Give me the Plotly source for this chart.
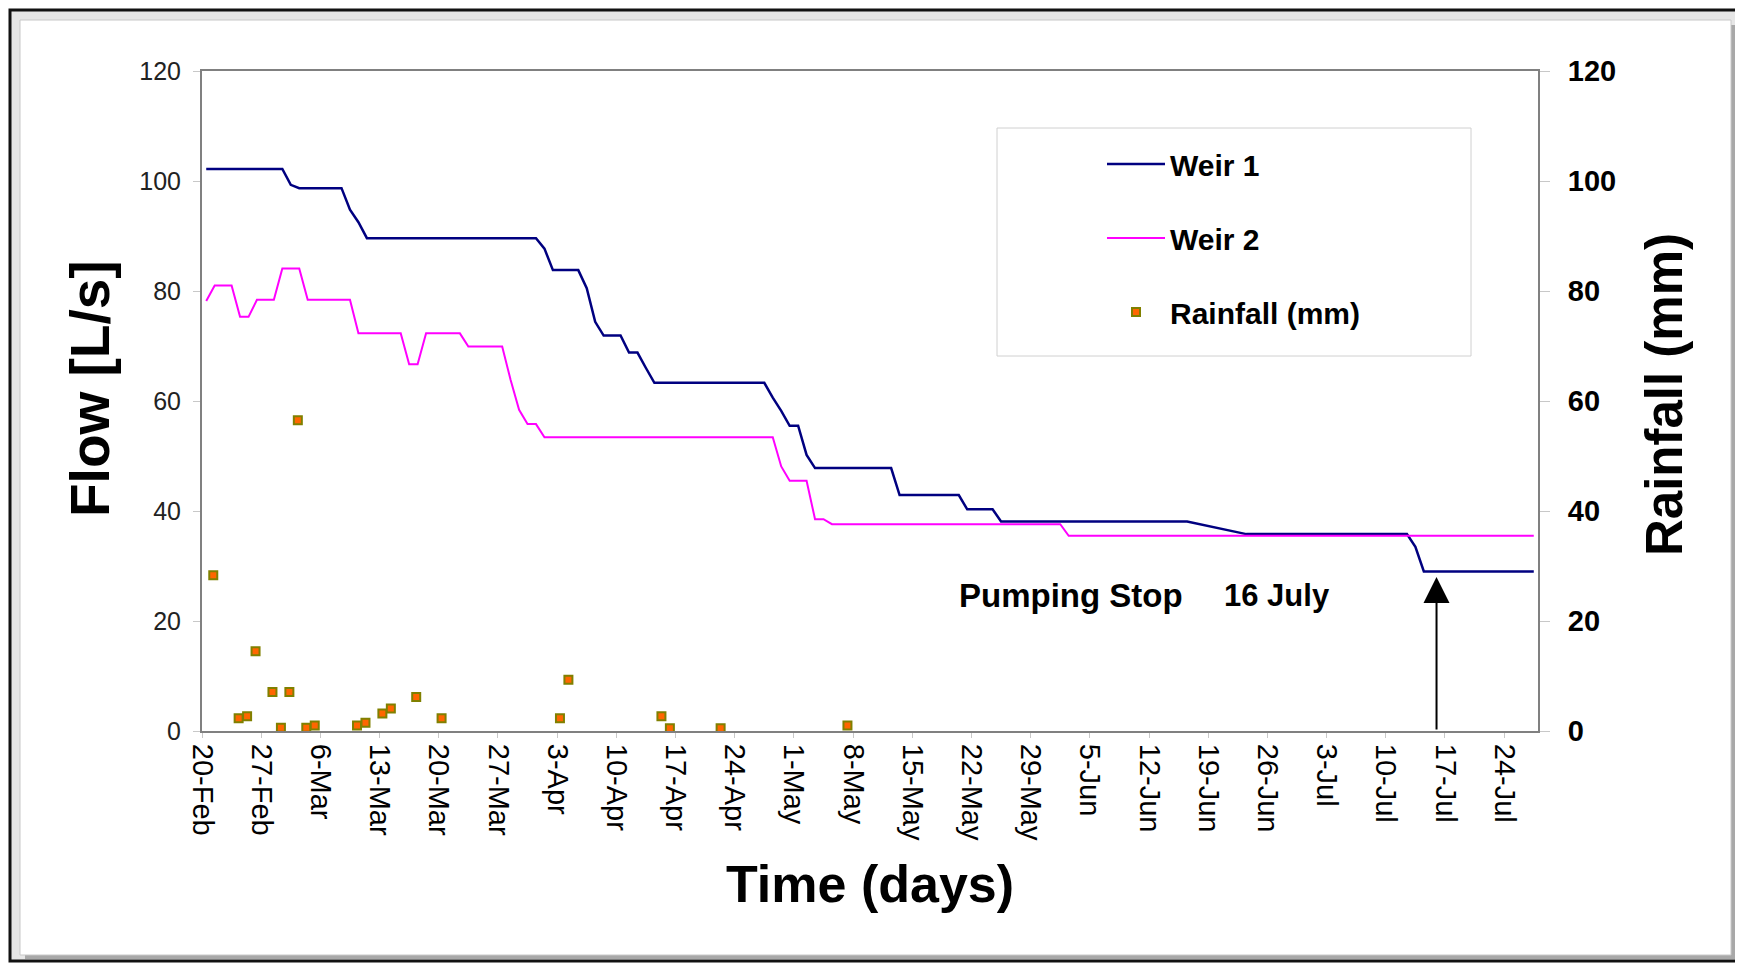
import plotly.graph_objects as go
import pandas as pd

# ---------------- data ----------------
weir1_dates = ["2007-02-20", "2007-03-01", "2007-03-02", "2007-03-03", "2007-03-08", "2007-03-09",
               "2007-03-10", "2007-03-11", "2007-03-31", "2007-04-01", "2007-04-02", "2007-04-05",
               "2007-04-06", "2007-04-07", "2007-04-08", "2007-04-10", "2007-04-11", "2007-04-12",
               "2007-04-13", "2007-04-14", "2007-04-27", "2007-04-28", "2007-04-29", "2007-04-30",
               "2007-05-01", "2007-05-02", "2007-05-03", "2007-05-12", "2007-05-13", "2007-05-20",
               "2007-05-21", "2007-05-24", "2007-05-25", "2007-06-16", "2007-06-23", "2007-07-12",
               "2007-07-13", "2007-07-14", "2007-07-27"]
weir1_flow = [102.2, 102.2, 99.3, 98.7, 98.7, 94.8,
              92.5, 89.6, 89.6, 87.7, 83.8, 83.8,
              80.5, 74.4, 71.9, 71.9, 68.8, 68.8,
              66.0, 63.3, 63.3, 60.6, 58.2, 55.5,
              55.5, 50.2, 47.8, 47.8, 42.9, 42.9,
              40.3, 40.3, 38.1, 38.1, 35.8, 35.8,
              33.5, 29.0, 29.0]

weir2_dates = ["2007-02-20", "2007-02-21", "2007-02-23", "2007-02-24", "2007-02-25", "2007-02-26",
               "2007-02-28", "2007-03-01", "2007-03-03", "2007-03-04", "2007-03-09", "2007-03-10",
               "2007-03-15", "2007-03-16", "2007-03-17", "2007-03-18", "2007-03-22", "2007-03-23",
               "2007-03-27", "2007-03-28", "2007-03-29", "2007-03-30", "2007-03-31", "2007-04-01",
               "2007-04-28", "2007-04-29", "2007-04-30", "2007-05-02", "2007-05-03", "2007-05-04",
               "2007-05-05", "2007-06-01", "2007-06-02", "2007-07-27"]
weir2_flow = [78.2, 81.0, 81.0, 75.3, 75.3, 78.4,
              78.4, 84.1, 84.1, 78.4, 78.4, 72.3,
              72.3, 66.7, 66.7, 72.3, 72.3, 69.9,
              69.9, 63.8, 58.4, 55.8, 55.8, 53.4,
              53.4, 48.1, 45.5, 45.5, 38.5, 38.5,
              37.6, 37.6, 35.5, 35.5]

rain_dates = ["2007-02-21", "2007-02-24", "2007-02-25", "2007-02-26", "2007-02-28", "2007-03-01",
              "2007-03-02", "2007-03-03", "2007-03-04", "2007-03-05", "2007-03-10", "2007-03-11",
              "2007-03-13", "2007-03-14", "2007-03-17", "2007-03-20", "2007-04-03", "2007-04-04",
              "2007-04-15", "2007-04-16", "2007-04-22", "2007-05-07"]
rain_mm = [28.3, 2.3, 2.7, 14.5, 7.1, 0.6,
           7.1, 56.5, 0.6, 1.0, 1.0, 1.5,
           3.2, 4.1, 6.2, 2.3, 2.3, 9.3,
           2.7, 0.5, 0.5, 1.0]

tick_dates = ["2007-02-20", "2007-02-27", "2007-03-06", "2007-03-13", "2007-03-20", "2007-03-27",
              "2007-04-03", "2007-04-10", "2007-04-17", "2007-04-24", "2007-05-01", "2007-05-08",
              "2007-05-15", "2007-05-22", "2007-05-29", "2007-06-05", "2007-06-12", "2007-06-19",
              "2007-06-26", "2007-07-03", "2007-07-10", "2007-07-17", "2007-07-24"]
tick_labels = ["20-Feb", "27-Feb", "6-Mar", "13-Mar", "20-Mar", "27-Mar", "3-Apr", "10-Apr",
               "17-Apr", "24-Apr", "1-May", "8-May", "15-May", "22-May", "29-May", "5-Jun",
               "12-Jun", "19-Jun", "26-Jun", "3-Jul", "10-Jul", "17-Jul", "24-Jul"]
y_ticks = [0, 20, 40, 60, 80, 100, 120]
x_range = ["2007-02-20", "2007-07-28"]
pump_stop_date = "2007-07-16"

# ---------------- layout geometry ----------------
# page body has an 8px margin, so the figure is 8px smaller and positions are
# expressed in window pixels through px()/py()
OFF = 8
W, H = 1743 - OFF, 963 - OFF
L, T = 202 - OFF, 71 - OFF
PW, PH = 1336, 660
R, B = W - L - PW, H - T - PH
FONT = "Liberation Sans, Arial, Helvetica, sans-serif"


def px(x):
    return (x - OFF - L) / PW


def py(y):
    return (T + PH - (y - OFF)) / PH


# values are daily readings plotted at the middle of each day (Excel date-axis style)
w1_x = pd.to_datetime(weir1_dates) + pd.Timedelta(hours=12)
w2_x = pd.to_datetime(weir2_dates) + pd.Timedelta(hours=12)
rn_x = pd.to_datetime(rain_dates) + pd.Timedelta(hours=8)

fig = go.Figure()
fig.add_trace(go.Scatter(x=w1_x, y=weir1_flow, mode="lines", name="Weir 1",
                         legendgroup="a", line=dict(color="#000080", width=2.5)))
fig.add_trace(go.Scatter(x=w2_x, y=weir2_flow, mode="lines", name="Weir 2",
                         legendgroup="b", line=dict(color="#FF00FF", width=2)))
fig.add_trace(go.Scatter(x=rn_x, y=rain_mm, mode="markers", name="Rainfall (mm)",
                         legendgroup="c", yaxis="y2",
                         marker=dict(symbol="square", size=8, color="#FF6600",
                                     line=dict(color="#808000", width=2))))

shapes = [
    # outer frame
    dict(type="rect", xref="paper", yref="paper", x0=px(10), x1=px(1740), y0=py(10), y1=py(961),
         line=dict(color="#111111", width=3), fillcolor="#e6e6e6", layer="below"),
    # shadow
    dict(type="rect", xref="paper", yref="paper", x0=px(25), x1=px(1738), y0=py(25), y1=py(959),
         line=dict(width=0), fillcolor="#a8a8a8", layer="below"),
    # white panel
    dict(type="rect", xref="paper", yref="paper", x0=px(20), x1=px(1731), y0=py(20), y1=py(955),
         line=dict(color="#c8c8c8", width=1), fillcolor="white", layer="below"),
    # legend box
    dict(type="rect", xref="paper", yref="paper", x0=px(997), x1=px(1471), y0=py(128), y1=py(356),
         line=dict(color="#d0d0d0", width=1), fillcolor="white", layer="below"),
]

annotations = [
    dict(text="<b>Time (days)</b>", xref="paper", yref="paper", x=px(870), y=py(884),
         xanchor="center", yanchor="middle", showarrow=False,
         font=dict(family=FONT, size=52, color="black")),
    dict(text="<b>Flow [L/s]</b>", xref="paper", yref="paper", x=px(90), y=py(389),
         xanchor="center", yanchor="middle", textangle=-90, showarrow=False,
         font=dict(family=FONT, size=55, color="black")),
    dict(text="<b>Rainfall (mm)</b>", xref="paper", yref="paper", x=px(1664), y=py(395),
         xanchor="center", yanchor="middle", textangle=-90, showarrow=False,
         font=dict(family=FONT, size=51, color="black")),
    dict(text="<b>Pumping Stop</b>", xref="paper", yref="paper", x=px(1071), y=py(595),
         xanchor="center", yanchor="middle", showarrow=False,
         font=dict(family=FONT, size=33, color="black")),
    dict(text="<b>16 July</b>", xref="paper", yref="paper", x=px(1277), y=py(595),
         xanchor="center", yanchor="middle", showarrow=False,
         font=dict(family=FONT, size=31, color="black")),
    dict(text="", x=pump_stop_date, y=28, xref="x", yref="y",
         ax=0, ay=0, axref="pixel", ayref="y", showarrow=True,
         arrowhead=2, arrowsize=2.6, arrowwidth=2, arrowcolor="black", standoff=0),
]

fig.update_layout(
    width=W, height=H,
    margin=dict(l=L, r=R, t=T, b=B, autoexpand=False),
    paper_bgcolor="white", plot_bgcolor="rgba(0,0,0,0)",
    font=dict(family=FONT, color="black"),
    showlegend=True,
    legend=dict(x=px(1102), y=py(138), xanchor="left", yanchor="top",
                bgcolor="rgba(0,0,0,0)", borderwidth=0, itemwidth=58,
                tracegroupgap=32, traceorder="grouped",
                font=dict(family=FONT, size=30, color="black", weight="bold")),
    xaxis=dict(type="date", range=x_range, tickvals=tick_dates, ticktext=tick_labels,
               tickangle=90, tickfont=dict(family=FONT, size=29, color="black"),
               showgrid=False, zeroline=False, showline=True, linecolor="#808080",
               linewidth=2, mirror=True, ticks="outside", ticklen=5, tickcolor="#c8c8c8"),
    yaxis=dict(range=[0, 120], tickvals=y_ticks, showgrid=False, zeroline=False,
               showline=True, linecolor="#808080", linewidth=2, mirror=True,
               ticks="outside", ticklen=7, tickcolor="#c8c8c8", ticklabelstandoff=7,
               tickfont=dict(family=FONT, size=25, color="#222222")),
    yaxis2=dict(range=[0, 120], tickvals=y_ticks, overlaying="y", side="right",
                showgrid=False, zeroline=False, showline=True, linecolor="#808080",
                linewidth=2, ticks="outside", ticklen=10, tickcolor="#c8c8c8",
                ticklabelstandoff=12,
                tickfont=dict(family=FONT, size=29, color="black", weight="bold")),
    shapes=shapes,
    annotations=annotations,
)

fig.write_html("out.html")
